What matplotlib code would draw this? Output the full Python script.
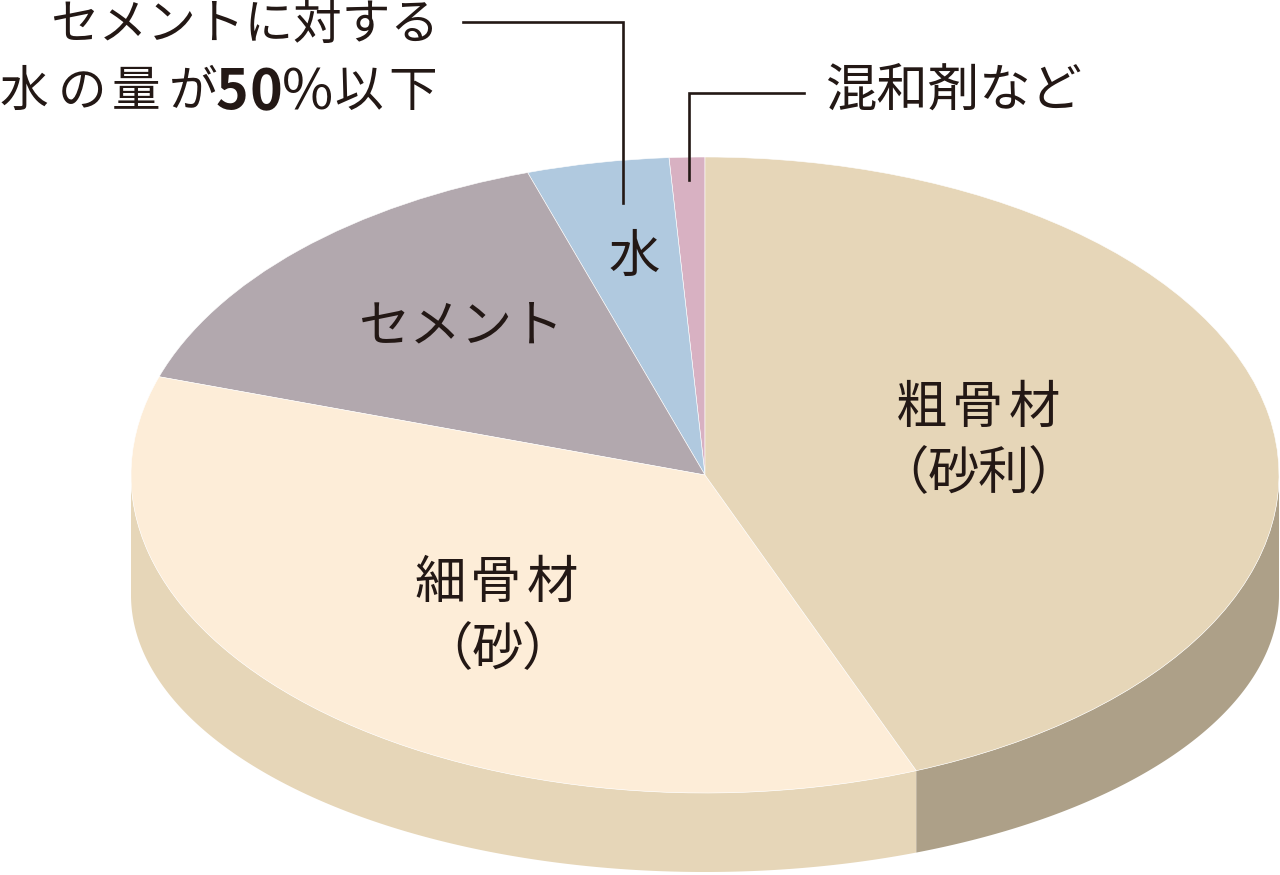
import numpy as np
import matplotlib.pyplot as plt
from matplotlib.patches import Wedge, Polygon
from matplotlib.transforms import Affine2D

plt.rcParams['font.family'] = ['Noto Sans CJK JP', 'DejaVu Sans']

# slices, counterclockwise from the top
labels = ['混和剤など', '水', 'セメント', '細骨材', '粗骨材']
values = [1, 4, 15, 36, 44]
top_colors = ['#d8b1c2', '#b0c9df', '#b2a8ae', '#fdedd8', '#e6d6b8']
side_colors = ['#b8949f', '#8fa6bb', '#948b90', '#e6d6b8', '#ada088']

ink = '#231815'

# ellipse geometry (pixels)
cx, cy, a, b = 705, 475, 574, 318
cy_bot, b_bot = 595, 277

fig = plt.figure(figsize=(12.8, 8.75), dpi=100)
ax = fig.add_axes([0, 0, 1, 1])
ax.set_xlim(0, 1280)
ax.set_ylim(875, 0)
ax.axis('off')

angles = 90 + 360 * np.cumsum([0] + values) / sum(values)
ell = Affine2D().scale(a, -b).translate(cx, cy) + ax.transData

# side walls (front half only)
for i in range(len(values)):
    t1, t2 = angles[i], angles[i + 1]
    for lo, hi in [(180, 360), (540, 720)]:
        s, e = max(t1, lo), min(t2, hi)
        if s < e:
            th = np.radians(np.linspace(s, e, 200))
            xs = cx + a * np.cos(th)
            top = cy - b * np.sin(th)
            bot = cy_bot - b_bot * np.sin(th)
            pts = np.column_stack([np.r_[xs, xs[::-1]], np.r_[top, bot[::-1]]])
            ax.add_patch(Polygon(pts, closed=True, fc=side_colors[i], ec='none'))

# top face
for i in range(len(values)):
    w = Wedge((0, 0), 1, angles[i], angles[i + 1], transform=ell,
              fc=top_colors[i], ec='white', lw=0.4)
    ax.add_patch(w)


def spaced(x, y, s, step, **kw):
    # draw a string with wide letter spacing, centred on x
    xs = x + step * (np.arange(len(s)) - (len(s) - 1) / 2)
    for c, xc in zip(s, xs):
        ax.text(xc, y, c, ha='center', va='center', color=ink, **kw)


fs = 37
spaced(978, 408, '粗骨材', 56, fontsize=fs)
spaced(978, 474, '（砂利）', 50, fontsize=fs)
spaced(496, 583, '細骨材', 56, fontsize=fs)
spaced(497, 650, '（砂）', 50, fontsize=fs)
ax.text(462, 327, 'セメント', ha='center', va='center', fontsize=fs, color=ink)
ax.text(634, 257, '水', ha='center', va='center', fontsize=fs, color=ink)

ax.text(439, 25, 'セメントに対する', ha='right', va='center', fontsize=35, color=ink)
line2 = [('水', 24), ('の', 82), ('量', 136), ('が', 193),
         ('5', 232), ('0', 266), ('%', 307), ('以', 359), ('下', 413)]
for c, xc in line2:
    if c in '50%':
        ax.text(xc, 109, c, ha='center', va='baseline', fontsize=40,
                fontweight='bold' if c != '%' else 'normal', color=ink)
    else:
        ax.text(xc, 106, c, ha='center', va='baseline', fontsize=35, color=ink)
ax.text(825, 91, '混和剤など', ha='left', va='center', fontsize=fs, color=ink)

# callout lines
ax.plot([463, 623, 623], [22, 22, 203], color=ink, lw=1.9, solid_joinstyle='miter')
ax.plot([804, 689, 689], [93, 93, 180], color=ink, lw=1.9, solid_joinstyle='miter')

fig.savefig('out.png', dpi=100)
